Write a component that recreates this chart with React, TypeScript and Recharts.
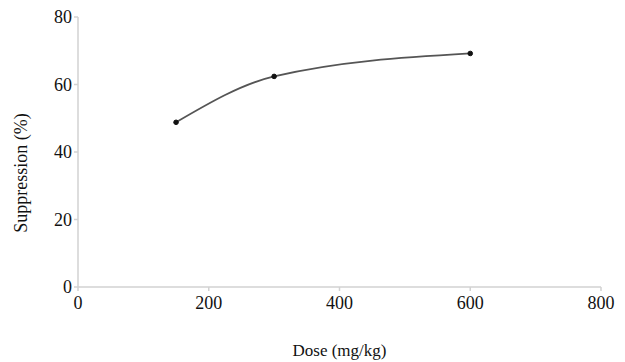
import { LineChart, Line, XAxis, YAxis } from "recharts";

const doses = [150, 300, 600];
const suppression = [48.8, 62.4, 69.2];
const xTicks = [0, 200, 400, 600, 800];
const yTicks = [0, 20, 40, 60, 80];

const data = doses.map((d, i) => ({ dose: d, value: suppression[i] }));

const FONT = '"Liberation Serif", "DejaVu Serif", serif';
const axisGray = "#d2d2d2";

// y-axis title sits a bit below the middle of the plot in the original
function YTitle(props: any) {
  const vb = props.viewBox || { x: 0, y: 0, width: 0, height: 0 };
  const cx = vb.x + 27;
  const cy = vb.y + vb.height / 2 + 21;
  return (
    <text
      x={cx}
      y={cy}
      transform={`rotate(-90, ${cx}, ${cy})`}
      textAnchor="middle"
      fontSize={18}
      fontFamily={FONT}
      fill="#111"
    >
      Suppression (%)
    </text>
  );
}

export default function App() {
  return (
    <div style={{ position: "absolute", left: 0, top: 0, background: "#fff" }}>
      <LineChart
        width={625}
        height={362}
        data={data}
        margin={{ top: 17, right: 24, left: 0, bottom: 0 }}
      >
        <XAxis
          type="number"
          dataKey="dose"
          domain={[0, 800]}
          ticks={xTicks}
          height={75}
          stroke={axisGray}
          strokeWidth={1.5}
          tickSize={4}
          tickMargin={5}
          tick={{ fontSize: 18, fill: "#111", fontFamily: FONT }}
          label={{
            value: "Dose (mg/kg)",
            position: "insideBottom",
            offset: 6,
            style: { fontSize: 17, fill: "#111", fontFamily: FONT },
          }}
        />
        <YAxis
          type="number"
          domain={[0, 80]}
          ticks={yTicks}
          width={78}
          stroke={axisGray}
          strokeWidth={1.5}
          tickSize={4}
          tickMargin={2}
          tick={{ fontSize: 18, fill: "#111", fontFamily: FONT }}
          label={<YTitle />}
        />
        <Line
          type="monotone"
          dataKey="value"
          stroke="#555"
          strokeWidth={1.8}
          dot={{ r: 2.3, fill: "#111", stroke: "#111", strokeWidth: 1 }}
          isAnimationActive={false}
        />
      </LineChart>
    </div>
  );
}
